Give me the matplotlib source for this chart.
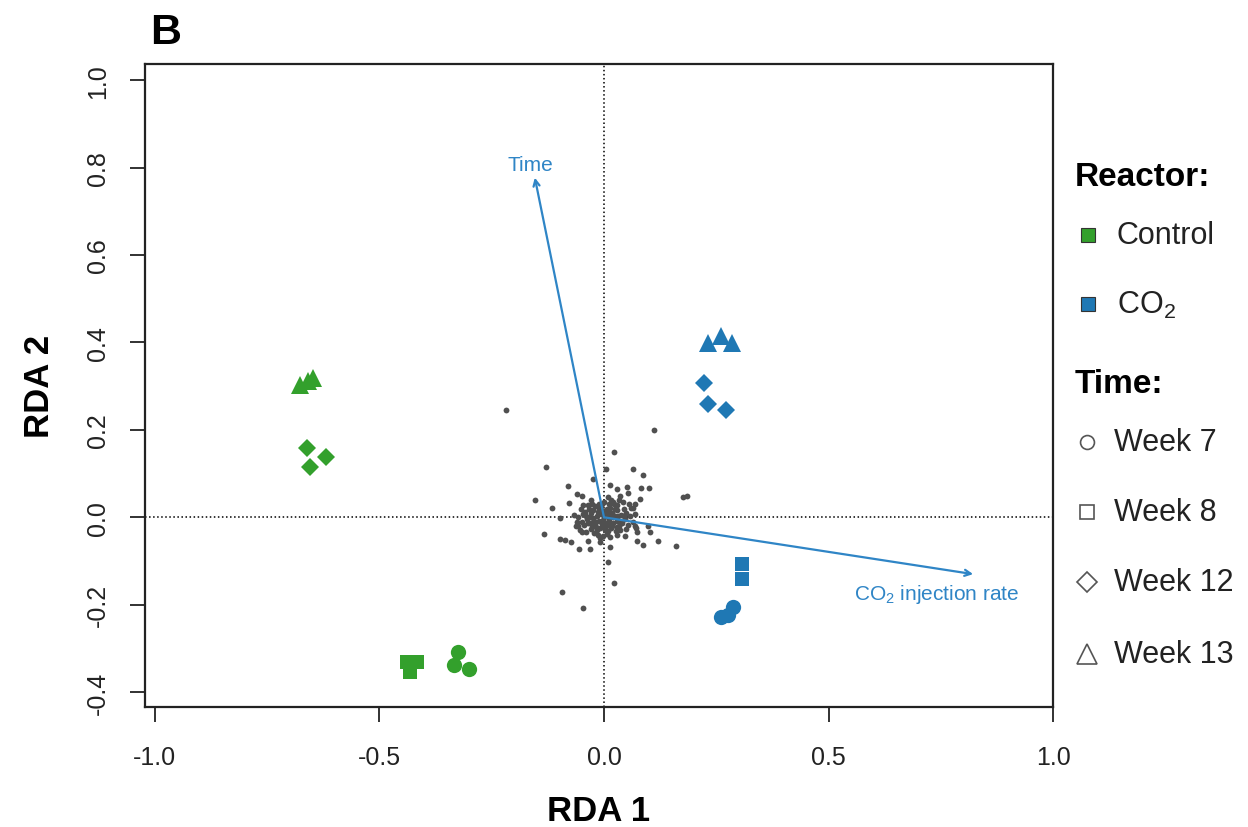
import matplotlib
matplotlib.use("Agg")
import matplotlib.pyplot as plt

plt.rcParams['font.family'] = ['Liberation Sans', 'DejaVu Sans']
plt.rcParams['mathtext.fontset'] = 'custom'
plt.rcParams['mathtext.rm'] = 'Liberation Sans'
plt.rcParams['mathtext.it'] = 'Liberation Sans:italic'
plt.rcParams['mathtext.bf'] = 'Liberation Sans:bold'

# site scores: reactor, week, RDA1, RDA2
site_reactor = ['Control'] * 12 + ['CO2'] * 12
site_week = (['Week 7'] * 3 + ['Week 8'] * 3 + ['Week 12'] * 3 + ['Week 13'] * 3) * 2
site_x = [-0.326, -0.334, -0.301, -0.439, -0.417, -0.432,
          -0.661, -0.620, -0.655, -0.677, -0.659, -0.648,
          0.260, 0.288, 0.277, 0.307, 0.307, 0.307,
          0.223, 0.232, 0.272, 0.232, 0.260, 0.284]
site_y = [-0.307, -0.338, -0.346, -0.330, -0.330, -0.355,
          0.159, 0.139, 0.116, 0.302, 0.311, 0.318,
          -0.229, -0.206, -0.224, -0.107, -0.140, -0.140,
          0.308, 0.260, 0.245, 0.398, 0.414, 0.398]

# species scores (gray dots)
sp_x = [0.000, 0.008, -0.006, 0.012, -0.010, 0.004, -0.003, 0.018, -0.016, 0.020,
        -0.019, 0.006, -0.012, 0.025, -0.024, 0.014, 0.002, -0.008, 0.028, -0.028,
        0.030, -0.030, 0.016, -0.020, 0.034, -0.034, 0.022, -0.004, 0.010, -0.016,
        0.038, -0.038, 0.040, -0.040, 0.030, -0.026, 0.026, -0.030, 0.044, -0.044,
        0.000, 0.006, 0.046, -0.046, 0.036, -0.036, 0.050, -0.050, 0.016, -0.014,
        0.054, -0.052, 0.042, -0.040, 0.058, -0.058, 0.004, -0.002, 0.010, -0.014,
        0.020, -0.022, 0.008, -0.004, 0.014, -0.008, 0.032, -0.032, 0.024, -0.024,
        0.018, -0.018, 0.012, -0.010, 0.002, 0.036, -0.036, 0.044, -0.042, 0.028,
        -0.026, 0.048, -0.046, 0.020, -0.022, 0.060, -0.062, 0.064, 0.056, -0.054,
        0.030, 0.034, -0.030, 0.068, -0.066, 0.010, 0.014, -0.008, 0.072, 0.070,
        -0.218, 0.111, 0.022, -0.129, 0.004, 0.065, 0.087, 0.176, 0.185, -0.080,
        -0.154, -0.116, -0.098, -0.134, -0.098, -0.087, -0.073, -0.056, -0.031, 0.013,
        0.009, 0.022, -0.094, -0.047, 0.087, 0.120, 0.160, 0.073, 0.098, 0.102,
        0.100, 0.082, 0.080, 0.065, 0.051, 0.053, 0.013, 0.029, -0.024, -0.060,
        -0.049, -0.078, -0.060, -0.058, -0.049, -0.036, -0.009, -0.002, 0.073, 0.069,
        0.047, 0.036]
sp_y = [0.000, 0.004, 0.007, -0.005, -0.008, -0.012, 0.015, 0.010, 0.004, -0.014,
        -0.015, 0.020, 0.019, 0.003, -0.002, 0.022, -0.022, -0.024, -0.008, 0.010,
        0.016, -0.012, -0.025, 0.025, -0.020, 0.018, 0.030, 0.030, -0.032, -0.030,
        0.006, -0.004, -0.012, 0.004, 0.028, 0.030, -0.032, -0.026, 0.018, -0.018,
        0.036, -0.038, -0.004, 0.008, -0.030, 0.028, 0.010, -0.010, 0.040, -0.040,
        -0.018, 0.020, 0.034, -0.034, 0.002, 0.000, 0.008, -0.006, 0.012, 0.012,
        0.000, -0.008, -0.018, -0.016, -0.012, 0.020, 0.004, 0.000, 0.018, 0.016,
        -0.020, -0.022, 0.030, 0.030, -0.030, -0.010, -0.014, 0.004, 0.012, -0.022,
        -0.020, -0.026, 0.028, 0.036, -0.036, 0.022, -0.020, -0.010, 0.030, -0.030,
        -0.040, 0.040, 0.040, 0.008, 0.006, 0.046, -0.046, -0.048, -0.024, 0.030,
        0.245, 0.199, 0.149, 0.114, 0.110, 0.110, 0.096, 0.046, 0.048, 0.071,
        0.039, 0.021, -0.002, -0.039, -0.050, -0.053, -0.057, -0.073, -0.073, -0.069,
        -0.103, -0.151, -0.171, -0.208, -0.064, -0.055, -0.066, -0.055, -0.021, -0.034,
        0.066, 0.066, 0.043, 0.021, 0.069, 0.055, 0.073, 0.064, 0.087, 0.053,
        0.048, 0.032, -0.011, -0.021, -0.034, -0.055, -0.057, -0.043, -0.034, -0.021,
        -0.043, 0.048]

# environmental vectors
env_names = ['Time', 'CO$_2$ injection rate']
env_x = [-0.154, 0.822]
env_y = [0.777, -0.130]
env_label_x = [-0.165, 0.742]
env_label_y = [0.807, -0.174]

reactors = ['Control', 'CO2']
reactor_labels = ['Control', 'CO$_2$']
reactor_colors = {'Control': '#33a02c', 'CO2': '#1f78b4'}
weeks = ['Week 7', 'Week 8', 'Week 12', 'Week 13']
week_markers = {'Week 7': 'o', 'Week 8': 's', 'Week 12': 'D', 'Week 13': '^'}
week_sizes = {'Week 7': 11, 'Week 8': 10, 'Week 12': 9.5, 'Week 13': 13}

x_ticks = [-1.0, -0.5, 0.0, 0.5, 1.0]
y_ticks = [-0.4, -0.2, 0.0, 0.2, 0.4, 0.6, 0.8, 1.0]

arrow_col = '#2f85c6'

fig = plt.figure(figsize=(12.48, 8.28), dpi=100)
ax = fig.add_axes([0.1162, 0.1449, 0.7276, 0.7766])
ax.set_xlim(-1.022, 1.0)
ax.set_ylim(-0.434, 1.037)

ax.axhline(0, color='black', linestyle=':', linewidth=1.1, zorder=1)
ax.axvline(0, color='black', linestyle=':', linewidth=1.1, zorder=1)

ax.plot(sp_x, sp_y, 'o', color='#505050', markersize=4.2, markeredgewidth=0, zorder=2)

for i in range(len(env_names)):
    ax.annotate('', xy=(env_x[i], env_y[i]), xytext=(0, 0),
                arrowprops=dict(arrowstyle='->', color=arrow_col, lw=1.6,
                                mutation_scale=11, shrinkA=0, shrinkB=0), zorder=3)
    ax.text(env_label_x[i], env_label_y[i], env_names[i], color=arrow_col,
            fontsize=15, ha='center', va='center', zorder=4)

for x, y, r, w in zip(site_x, site_y, site_reactor, site_week):
    ax.plot(x, y, week_markers[w], color=reactor_colors[r], markersize=week_sizes[w],
            markeredgewidth=0, zorder=5)

ax.set_xticks(x_ticks)
ax.set_xticklabels(['%.1f' % t for t in x_ticks])
ax.set_yticks(y_ticks)
ax.set_yticklabels(['%.1f' % t for t in y_ticks], rotation=90, va='center')
ax.tick_params(axis='both', length=11, width=1.3, color='#222222',
               labelsize=18, labelcolor='#222222')
ax.tick_params(axis='x', pad=16)
ax.tick_params(axis='y', pad=14)
for s in ax.spines.values():
    s.set_linewidth(1.6)
    s.set_color('#222222')

ax.set_xlabel('RDA 1', fontsize=25, fontweight='bold', labelpad=18)
ax.set_ylabel('RDA 2', fontsize=25, fontweight='bold', labelpad=22)

fig.text(150 / 1248, 1 - 33 / 828, 'B', fontsize=31, fontweight='bold', ha='left', va='center')

# legend drawn in pixel coordinates
lg = fig.add_axes([0, 0, 1, 1], facecolor='none')
lg.set_xlim(0, 1248)
lg.set_ylim(828, 0)
lg.axis('off')

lg.text(1075, 178, 'Reactor:', fontsize=24, fontweight='bold', ha='left', va='center')
for r, lab, yy in zip(reactors, reactor_labels, [236, 305]):
    lg.plot(1088, yy, 's', color=reactor_colors[r], markersize=10.5,
            markeredgecolor='#333333', markeredgewidth=0.8)
    lg.text(1117, yy, lab, fontsize=22, ha='left', va='center', color='#222222')

lg.text(1075, 385, 'Time:', fontsize=24, fontweight='bold', ha='left', va='center')
leg_sizes = {'Week 7': 10, 'Week 8': 10, 'Week 12': 10, 'Week 13': 15}
for w, yy in zip(weeks, [443, 513, 583, 655]):
    lg.plot(1087, yy, week_markers[w], markerfacecolor='none', markeredgecolor='#555555',
            markersize=leg_sizes[w], markeredgewidth=1.2)
    lg.text(1114, yy, w, fontsize=22, ha='left', va='center', color='#222222')

fig.savefig('out.png', dpi=100)
